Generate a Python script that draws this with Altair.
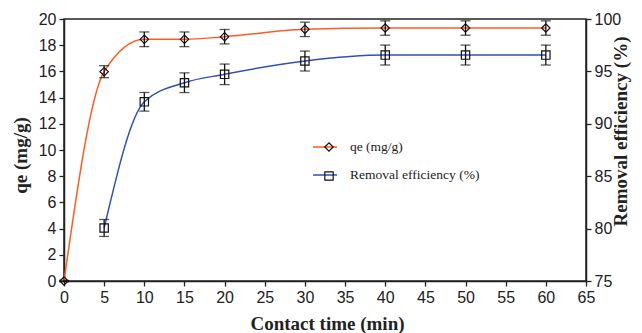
import altair as alt
import pandas as pd

# ---- data ----
time_qe = [0, 5, 10, 15, 20, 30, 40, 50, 60]
qe = [0.0, 15.98, 18.45, 18.45, 18.65, 19.21, 19.31, 19.31, 19.31]
qe_err = [0.05, 0.46, 0.56, 0.56, 0.55, 0.55, 0.55, 0.55, 0.55]

time_re = [5, 10, 15, 20, 30, 40, 50, 60]
removal = [80.06, 92.1, 93.92, 94.72, 95.99, 96.56, 96.56, 96.56]
removal_err = [0.81, 0.89, 0.94, 0.98, 0.95, 0.95, 0.95, 0.95]

series = ["qe (mg/g)", "Removal efficiency (%)"]
marker_keys = ["qe", "re"]
colors = ["#ff5a22", "#2f50b5"]
x_ticks = list(range(0, 70, 5))
left_ticks = list(range(0, 22, 2))
right_ticks = list(range(75, 105, 5))

qe_df = pd.DataFrame({
    "time": time_qe, "val": qe,
    "lo": [v - e for v, e in zip(qe, qe_err)],
    "hi": [v + e for v, e in zip(qe, qe_err)],
    "series": series[0], "marker": marker_keys[0],
})
re_df = pd.DataFrame({
    "time": time_re, "val": removal,
    "lo": [v - e for v, e in zip(removal, removal_err)],
    "hi": [v + e for v, e in zip(removal, removal_err)],
    "series": series[1], "marker": marker_keys[1],
})

x_axis = alt.Axis(values=x_ticks, title="Contact time (min)", labelFlush=False,
                  titleX=263, titleY=48, titleBaseline="alphabetic")
x_scale = alt.Scale(domain=[0, 65], nice=False)

color_legend = alt.Legend(orient="none", legendX=248, legendY=115, title=None,
                          symbolType="stroke", symbolSize=576, symbolStrokeWidth=1.5,
                          labelFont="Liberation Serif", labelFontSize=13.5,
                          labelColor="#222", labelOffset=12, rowPadding=8,
                          padding=0, offset=0)
shape_legend = alt.Legend(orient="none", legendX=252, legendY=115, title=None,
                          symbolSize=70, symbolStrokeWidth=1.2,
                          symbolStrokeColor="#111", symbolFillColor="white",
                          labelFontSize=26, labelExpr="''", rowPadding=3,
                          padding=0, offset=0)

COLOR = alt.Color("series:N", scale=alt.Scale(domain=series, range=colors),
                  legend=color_legend)
SHAPE = alt.Shape("marker:N", scale=alt.Scale(domain=marker_keys, range=["diamond", "square"]),
                  legend=shape_legend)


def group(df, domain, axis):
    base = alt.Chart(df)
    yscale = alt.Scale(domain=domain, nice=False, zero=False)
    X = alt.X("time:Q", scale=x_scale, axis=x_axis)
    line = base.mark_line(interpolate="monotone", strokeWidth=1.5).encode(
        x=X, y=alt.Y("val:Q", scale=yscale, axis=axis), color=COLOR)
    rule = base.mark_rule(color="#111", strokeWidth=1.3).encode(
        x=X, y=alt.Y("lo:Q", scale=yscale, axis=axis), y2="hi:Q")
    t_lo = base.mark_tick(orient="horizontal", color="#111", size=10, thickness=1.3).encode(
        x=X, y=alt.Y("lo:Q", scale=yscale, axis=axis))
    t_hi = base.mark_tick(orient="horizontal", color="#111", size=10, thickness=1.3).encode(
        x=X, y=alt.Y("hi:Q", scale=yscale, axis=axis))
    pts = base.mark_point(filled=False, color="#111", size=70, strokeWidth=1.2, opacity=1).encode(
        x=X, y=alt.Y("val:Q", scale=yscale, axis=axis), shape=SHAPE)
    return alt.layer(line, rule, t_lo, t_hi, pts)


left_axis = alt.Axis(orient="left", values=left_ticks, title="qe (mg/g)", labelFlush=False,
                     titleAngle=270, titleX=-38, titleY=136, titleBaseline="alphabetic")
right_axis = alt.Axis(orient="right", values=right_ticks, title="Removal efficiency (%)",
                      labelFlush=False,
                      titleAngle=270, titleX=40, titleY=112, titleBaseline="alphabetic")

left = group(qe_df, [0, 20], left_axis)
right = group(re_df, [75, 100], right_axis)

chart = alt.layer(left, right).resolve_scale(y="independent").properties(
    width=522, height=262,
    autosize=alt.AutoSizeParams(type="none"),
    padding={"left": 56, "top": 11, "right": 48, "bottom": 52},
).configure_view(
    stroke="#222", strokeWidth=1.5
).configure_axis(
    grid=False, domainColor="#222", domainWidth=1.5, tickColor="#222", tickWidth=1.3,
    tickSize=5, labelFont="Liberation Sans", labelFontSize=16, labelColor="#222",
    labelPadding=3, titleFont="Liberation Serif", titleFontSize=19, titleFontWeight="bold",
    titleColor="#222",
)

chart.save("out.html", embed_options={"renderer": "svg", "actions": False})
